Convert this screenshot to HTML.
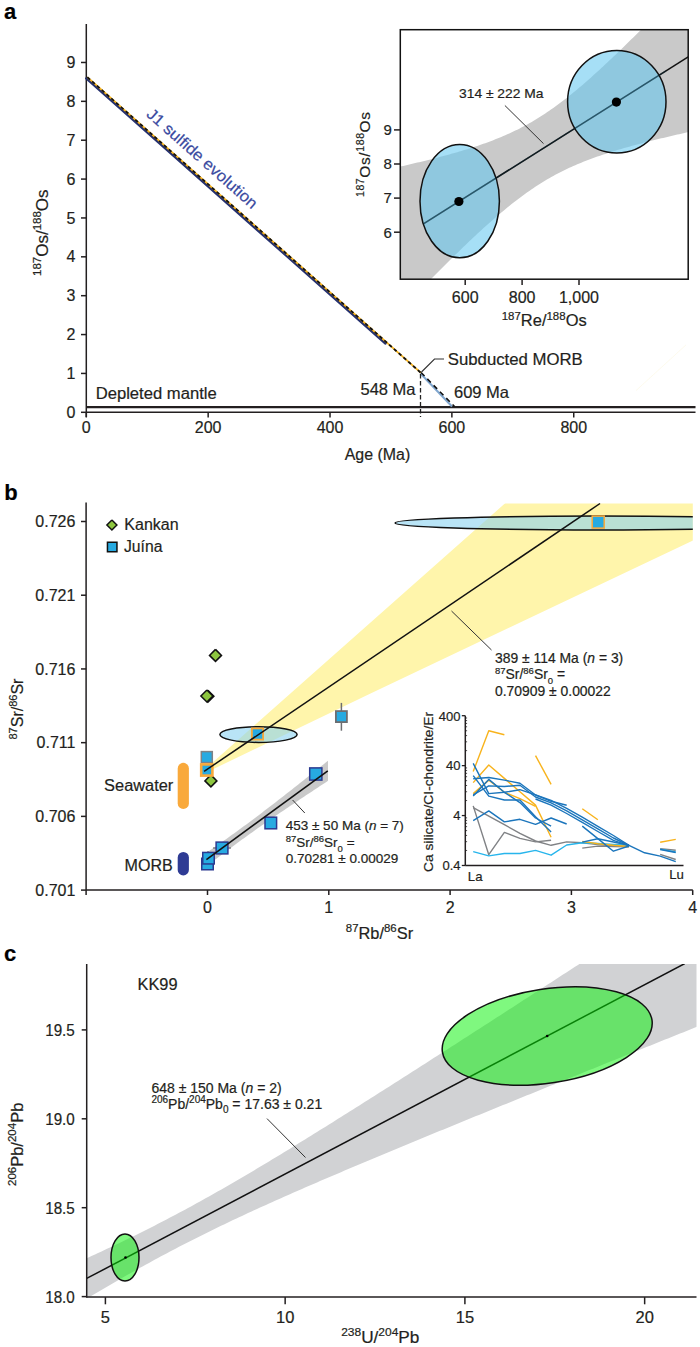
<!DOCTYPE html>
<html><head><meta charset="utf-8"><style>
html,body{margin:0;padding:0;background:#fff;}
svg{display:block;}
text{font-family:"Liberation Sans", sans-serif;stroke:#231f20;stroke-width:0.2px;}
</style></head><body>
<svg width="700" height="1347" viewBox="0 0 700 1347">
<rect width="700" height="1347" fill="#fff"/>
<text x="4" y="18.6" font-size="22" font-weight="bold" fill="#000">a</text>
<line x1="86.30" y1="24.00" x2="86.30" y2="417.00" stroke="#231f20" stroke-width="1.5" />
<line x1="86.30" y1="412.30" x2="695.50" y2="412.30" stroke="#231f20" stroke-width="1.5" />
<line x1="86.30" y1="407.20" x2="695.50" y2="407.20" stroke="#231f20" stroke-width="2.2" />
<line x1="81.00" y1="412.30" x2="86.30" y2="412.30" stroke="#231f20" stroke-width="1.5" />
<text x="75.50" y="417.90" font-size="16" text-anchor="end" fill="#231f20" >0</text>
<line x1="81.00" y1="373.43" x2="86.30" y2="373.43" stroke="#231f20" stroke-width="1.5" />
<text x="75.50" y="379.03" font-size="16" text-anchor="end" fill="#231f20" >1</text>
<line x1="81.00" y1="334.56" x2="86.30" y2="334.56" stroke="#231f20" stroke-width="1.5" />
<text x="75.50" y="340.16" font-size="16" text-anchor="end" fill="#231f20" >2</text>
<line x1="81.00" y1="295.69" x2="86.30" y2="295.69" stroke="#231f20" stroke-width="1.5" />
<text x="75.50" y="301.29" font-size="16" text-anchor="end" fill="#231f20" >3</text>
<line x1="81.00" y1="256.82" x2="86.30" y2="256.82" stroke="#231f20" stroke-width="1.5" />
<text x="75.50" y="262.42" font-size="16" text-anchor="end" fill="#231f20" >4</text>
<line x1="81.00" y1="217.95" x2="86.30" y2="217.95" stroke="#231f20" stroke-width="1.5" />
<text x="75.50" y="223.55" font-size="16" text-anchor="end" fill="#231f20" >5</text>
<line x1="81.00" y1="179.08" x2="86.30" y2="179.08" stroke="#231f20" stroke-width="1.5" />
<text x="75.50" y="184.68" font-size="16" text-anchor="end" fill="#231f20" >6</text>
<line x1="81.00" y1="140.21" x2="86.30" y2="140.21" stroke="#231f20" stroke-width="1.5" />
<text x="75.50" y="145.81" font-size="16" text-anchor="end" fill="#231f20" >7</text>
<line x1="81.00" y1="101.34" x2="86.30" y2="101.34" stroke="#231f20" stroke-width="1.5" />
<text x="75.50" y="106.94" font-size="16" text-anchor="end" fill="#231f20" >8</text>
<line x1="81.00" y1="62.47" x2="86.30" y2="62.47" stroke="#231f20" stroke-width="1.5" />
<text x="75.50" y="68.07" font-size="16" text-anchor="end" fill="#231f20" >9</text>
<line x1="86.30" y1="412.30" x2="86.30" y2="417.50" stroke="#231f20" stroke-width="1.5" />
<text x="86.30" y="432.80" font-size="16" text-anchor="middle" fill="#231f20" >0</text>
<line x1="208.16" y1="412.30" x2="208.16" y2="417.50" stroke="#231f20" stroke-width="1.5" />
<text x="208.16" y="432.80" font-size="16" text-anchor="middle" fill="#231f20" >200</text>
<line x1="330.02" y1="412.30" x2="330.02" y2="417.50" stroke="#231f20" stroke-width="1.5" />
<text x="330.02" y="432.80" font-size="16" text-anchor="middle" fill="#231f20" >400</text>
<line x1="451.88" y1="412.30" x2="451.88" y2="417.50" stroke="#231f20" stroke-width="1.5" />
<text x="451.88" y="432.80" font-size="16" text-anchor="middle" fill="#231f20" >600</text>
<line x1="573.74" y1="412.30" x2="573.74" y2="417.50" stroke="#231f20" stroke-width="1.5" />
<text x="573.74" y="432.80" font-size="16" text-anchor="middle" fill="#231f20" >800</text>
<text x="377.50" y="460.00" font-size="16" text-anchor="middle" fill="#231f20" textLength="65.5" lengthAdjust="spacingAndGlyphs" >Age (Ma)</text>
<text transform="translate(47.6,276) rotate(-90)" font-size="17" fill="#231f20"><tspan font-size="11.5" dy="-6.5">187</tspan><tspan dy="6.5">Os/</tspan><tspan font-size="11.5" dy="-6.5">188</tspan><tspan dy="6.5">Os</tspan></text>
<line x1="86.27" y1="78.40" x2="385.47" y2="343.53" stroke="#25306e" stroke-width="2.4" stroke-linecap="round"/>
<line x1="87.33" y1="77.20" x2="421.03" y2="372.90" stroke="#f6b21b" stroke-width="1.8" />
<line x1="87.33" y1="77.20" x2="421.03" y2="372.90" stroke="#111" stroke-width="1.8" stroke-dasharray="3.6 2.8"/>
<text transform="translate(145.5,115.5) rotate(41.54)" font-size="16" fill="#3a4aa0" style="stroke:#3a4aa0" textLength="142" lengthAdjust="spacingAndGlyphs">J1 sulfide evolution</text>
<line x1="420.50" y1="373.50" x2="452.00" y2="406.50" stroke="#7fa6cf" stroke-width="2.0" />
<line x1="421.00" y1="372.50" x2="454.50" y2="406.50" stroke="#111" stroke-width="1.6" stroke-dasharray="5 4"/>
<line x1="420.50" y1="374.00" x2="420.50" y2="417.00" stroke="#222" stroke-width="1.3" stroke-dasharray="4.5 2.5"/>
<path d="M421.50,372.00 L434.50,359.00 L444.00,359.00" fill="none" stroke="#333" stroke-width="1.1" />
<text x="447.80" y="364.50" font-size="16.5" text-anchor="start" fill="#231f20" textLength="135" lengthAdjust="spacingAndGlyphs" >Subducted MORB</text>
<text x="415.50" y="394.50" font-size="16.5" text-anchor="end" fill="#231f20" >548 Ma</text>
<text x="454.00" y="397.50" font-size="16.5" text-anchor="start" fill="#231f20" >609 Ma</text>
<text x="95.70" y="398.80" font-size="16" text-anchor="start" fill="#231f20" textLength="121" lengthAdjust="spacingAndGlyphs" >Depleted mantle</text>
<line x1="636.00" y1="390.60" x2="686.00" y2="344.90" stroke="#fcf9e8" stroke-width="0.8" />
<clipPath id="clipA"><rect x="400.3" y="29.7" width="287.90000000000003" height="249.5"/></clipPath>
<g clip-path="url(#clipA)">
<path d="M395.30,167.73 L397.30,167.28 L399.30,166.83 L401.30,166.37 L403.30,165.91 L405.30,165.45 L407.30,164.99 L409.30,164.52 L411.30,164.05 L413.30,163.58 L415.30,163.10 L417.30,162.62 L419.30,162.14 L421.30,161.66 L423.30,161.17 L425.30,160.67 L427.30,160.18 L429.30,159.68 L431.30,159.17 L433.30,158.66 L435.30,158.15 L437.30,157.63 L439.30,157.10 L441.30,156.58 L443.30,156.04 L445.30,155.50 L447.30,154.96 L449.30,154.41 L451.30,153.85 L453.30,153.29 L455.30,152.71 L457.30,152.14 L459.30,151.55 L461.30,150.96 L463.30,150.36 L465.30,149.75 L467.30,149.14 L469.30,148.51 L471.30,147.87 L473.30,147.23 L475.30,146.57 L477.30,145.91 L479.30,145.23 L481.30,144.55 L483.30,143.85 L485.30,143.13 L487.30,142.41 L489.30,141.67 L491.30,140.92 L493.30,140.15 L495.30,139.37 L497.30,138.58 L499.30,137.77 L501.30,136.94 L503.30,136.09 L505.30,135.23 L507.30,134.34 L509.30,133.44 L511.30,132.52 L513.30,131.58 L515.30,130.62 L517.30,129.64 L519.30,128.63 L521.30,127.61 L523.30,126.56 L525.30,125.49 L527.30,124.39 L529.30,123.27 L531.30,122.13 L533.30,120.96 L535.30,119.77 L537.30,118.56 L539.30,117.32 L541.30,116.05 L543.30,114.76 L545.30,113.44 L547.30,112.10 L549.30,110.74 L551.30,109.35 L553.30,107.94 L555.30,106.50 L557.30,105.04 L559.30,103.56 L561.30,102.06 L563.30,100.53 L565.30,98.98 L567.30,97.41 L569.30,95.82 L571.30,94.22 L573.30,92.59 L575.30,90.94 L577.30,89.27 L579.30,87.59 L581.30,85.89 L583.30,84.17 L585.30,82.44 L587.30,80.69 L589.30,78.93 L591.30,77.15 L593.30,75.36 L595.30,73.56 L597.30,71.74 L599.30,69.92 L601.30,68.08 L603.30,66.23 L605.30,64.36 L607.30,62.49 L609.30,60.61 L611.30,58.72 L613.30,56.82 L615.30,54.91 L617.30,52.99 L619.30,51.06 L621.30,49.13 L623.30,47.19 L625.30,45.24 L627.30,43.28 L629.30,41.32 L631.30,39.35 L633.30,37.38 L635.30,35.40 L637.30,33.41 L639.30,31.42 L641.30,29.42 L643.30,27.42 L645.30,25.41 L647.30,23.40 L649.30,21.39 L651.30,19.37 L653.30,17.34 L655.30,15.31 L657.30,13.28 L659.30,11.25 L661.30,9.21 L663.30,7.16 L665.30,5.12 L667.30,3.07 L669.30,1.02 L671.30,-1.04 L673.30,-3.10 L675.30,-5.16 L677.30,-7.22 L679.30,-9.29 L681.30,-11.36 L683.30,-13.43 L685.30,-15.50 L687.30,-17.58 L689.30,-19.66 L691.30,-21.74 L691.30,131.45 L689.30,131.89 L687.30,132.34 L685.30,132.79 L683.30,133.24 L681.30,133.69 L679.30,134.15 L677.30,134.60 L675.30,135.06 L673.30,135.53 L671.30,135.99 L669.30,136.46 L667.30,136.93 L665.30,137.41 L663.30,137.88 L661.30,138.37 L659.30,138.85 L657.30,139.34 L655.30,139.83 L653.30,140.33 L651.30,140.83 L649.30,141.33 L647.30,141.84 L645.30,142.35 L643.30,142.87 L641.30,143.39 L639.30,143.92 L637.30,144.45 L635.30,144.99 L633.30,145.53 L631.30,146.08 L629.30,146.64 L627.30,147.20 L625.30,147.77 L623.30,148.34 L621.30,148.92 L619.30,149.51 L617.30,150.11 L615.30,150.72 L613.30,151.33 L611.30,151.95 L609.30,152.59 L607.30,153.23 L605.30,153.88 L603.30,154.54 L601.30,155.21 L599.30,155.90 L597.30,156.59 L595.30,157.30 L593.30,158.02 L591.30,158.76 L589.30,159.50 L587.30,160.27 L585.30,161.04 L583.30,161.83 L581.30,162.64 L579.30,163.46 L577.30,164.31 L575.30,165.16 L573.30,166.04 L571.30,166.94 L569.30,167.85 L567.30,168.79 L565.30,169.74 L563.30,170.72 L561.30,171.71 L559.30,172.73 L557.30,173.77 L555.30,174.84 L553.30,175.93 L551.30,177.04 L549.30,178.17 L547.30,179.33 L545.30,180.52 L543.30,181.73 L541.30,182.96 L539.30,184.22 L537.30,185.50 L535.30,186.81 L533.30,188.14 L531.30,189.50 L529.30,190.88 L527.30,192.29 L525.30,193.71 L523.30,195.17 L521.30,196.64 L519.30,198.14 L517.30,199.66 L515.30,201.20 L513.30,202.77 L511.30,204.35 L509.30,205.95 L507.30,207.57 L505.30,209.22 L503.30,210.88 L501.30,212.55 L499.30,214.25 L497.30,215.96 L495.30,217.69 L493.30,219.43 L491.30,221.19 L489.30,222.96 L487.30,224.75 L485.30,226.55 L483.30,228.36 L481.30,230.19 L479.30,232.02 L477.30,233.87 L475.30,235.73 L473.30,237.60 L471.30,239.48 L469.30,241.37 L467.30,243.26 L465.30,245.17 L463.30,247.09 L461.30,249.01 L459.30,250.94 L457.30,252.88 L455.30,254.83 L453.30,256.78 L451.30,258.74 L449.30,260.71 L447.30,262.68 L445.30,264.66 L443.30,266.65 L441.30,268.64 L439.30,270.63 L437.30,272.63 L435.30,274.64 L433.30,276.65 L431.30,278.66 L429.30,280.68 L427.30,282.70 L425.30,284.73 L423.30,286.76 L421.30,288.80 L419.30,290.83 L417.30,292.88 L415.30,294.92 L413.30,296.97 L411.30,299.02 L409.30,301.08 L407.30,303.13 L405.30,305.19 L403.30,307.26 L401.30,309.32 L399.30,311.39 L397.30,313.46 L395.30,315.53" fill="#c9c9c9" stroke="none" stroke-width="1" />
</g>
<line x1="423.40" y1="223.90" x2="688.20" y2="56.81" stroke="#111" stroke-width="1.5" clip-path="url(#clipA)"/>
<ellipse cx="459.7" cy="201.2" rx="39.7" ry="56.6" fill="#66c8f0" fill-opacity="0.58" stroke="#111" stroke-width="1.5"/>
<ellipse cx="616.8" cy="101.7" rx="49.2" ry="51.2" fill="#66c8f0" fill-opacity="0.58" stroke="#111" stroke-width="1.5"/>
<line x1="423.40" y1="223.90" x2="666.00" y2="70.82" stroke="#0a2a38" stroke-width="1.4" stroke-opacity="0.45"/>
<circle cx="458.9" cy="201.5" r="4.6" fill="#000"/>
<circle cx="616.4" cy="102.1" r="4.6" fill="#000"/>
<rect x="400.3" y="29.7" width="287.90000000000003" height="249.5" fill="none" stroke="#111" stroke-width="1.5"/>
<line x1="394.00" y1="129.90" x2="400.30" y2="129.90" stroke="#231f20" stroke-width="1.5" />
<text x="391.80" y="135.20" font-size="15" text-anchor="end" fill="#231f20" >9</text>
<line x1="394.00" y1="164.00" x2="400.30" y2="164.00" stroke="#231f20" stroke-width="1.5" />
<text x="391.80" y="169.30" font-size="15" text-anchor="end" fill="#231f20" >8</text>
<line x1="394.00" y1="198.10" x2="400.30" y2="198.10" stroke="#231f20" stroke-width="1.5" />
<text x="391.80" y="203.40" font-size="15" text-anchor="end" fill="#231f20" >7</text>
<line x1="394.00" y1="232.20" x2="400.30" y2="232.20" stroke="#231f20" stroke-width="1.5" />
<text x="391.80" y="237.50" font-size="15" text-anchor="end" fill="#231f20" >6</text>
<line x1="465.20" y1="279.20" x2="465.20" y2="285.00" stroke="#231f20" stroke-width="1.5" />
<text x="465.20" y="303.00" font-size="16" text-anchor="middle" fill="#231f20" >600</text>
<line x1="522.10" y1="279.20" x2="522.10" y2="285.00" stroke="#231f20" stroke-width="1.5" />
<text x="522.10" y="303.00" font-size="16" text-anchor="middle" fill="#231f20" >800</text>
<line x1="579.00" y1="279.20" x2="579.00" y2="285.00" stroke="#231f20" stroke-width="1.5" />
<text x="579.00" y="303.00" font-size="16" text-anchor="middle" fill="#231f20" >1,000</text>
<text x="501.7" y="326" font-size="16.5" fill="#231f20" textLength="85" lengthAdjust="spacingAndGlyphs"><tspan font-size="11.5" dy="-6.5">187</tspan><tspan dy="6.5">Re/</tspan><tspan font-size="11.5" dy="-6.5">188</tspan><tspan dy="6.5">Os</tspan></text>
<text transform="translate(369.7,197) rotate(-90)" font-size="15.5" fill="#231f20" textLength="85" lengthAdjust="spacing"><tspan font-size="10.5" dy="-6">187</tspan><tspan dy="6">Os/</tspan><tspan font-size="10.5" dy="-6">188</tspan><tspan dy="6">Os</tspan></text>
<text x="459.00" y="98.10" font-size="13" text-anchor="start" fill="#231f20" textLength="84.5" lengthAdjust="spacingAndGlyphs" >314 ± 222 Ma</text>
<line x1="504.90" y1="105.50" x2="543.50" y2="143.60" stroke="#333" stroke-width="1.0" />
<text x="4.3" y="499.9" font-size="22" font-weight="bold" fill="#000">b</text>
<clipPath id="clipB"><rect x="86.1" y="503.5" width="606.6999999999999" height="386.6"/></clipPath>
<g clip-path="url(#clipB)">
<path d="M203.50,770.50 L576.52,440.00 L760.00,440.00 L760.00,508.69 L370.00,693.80 L330.00,712.90 L204.10,773.50" fill="#fff5ab" stroke="none" stroke-width="1" />
</g>
<path d="M204.00,854.50 L206.00,853.13 L208.00,851.75 L210.00,850.37 L212.00,848.98 L214.00,847.59 L216.00,846.19 L218.00,844.79 L220.00,843.39 L222.00,841.98 L224.00,840.56 L226.00,839.14 L228.00,837.72 L230.00,836.29 L232.00,834.85 L234.00,833.41 L236.00,831.96 L238.00,830.51 L240.00,829.05 L242.00,827.59 L244.00,826.12 L246.00,824.64 L248.00,823.16 L250.00,821.67 L252.00,820.18 L254.00,818.68 L256.00,817.18 L258.00,815.67 L260.00,814.16 L262.00,812.64 L264.00,811.12 L266.00,809.59 L268.00,808.06 L270.00,806.53 L272.00,804.99 L274.00,803.44 L276.00,801.89 L278.00,800.34 L280.00,798.79 L282.00,797.23 L284.00,795.66 L286.00,794.10 L288.00,792.53 L290.00,790.96 L292.00,789.38 L294.00,787.81 L296.00,786.23 L298.00,784.64 L300.00,783.06 L302.00,781.47 L304.00,779.88 L306.00,778.29 L308.00,776.70 L310.00,775.10 L312.00,773.51 L314.00,771.91 L316.00,770.31 L318.00,768.71 L320.00,767.10 L322.00,765.50 L324.00,763.89 L326.00,762.29 L328.00,760.68 L328.00,780.83 L326.00,782.14 L324.00,783.46 L322.00,784.78 L320.00,786.09 L318.00,787.41 L316.00,788.73 L314.00,790.06 L312.00,791.38 L310.00,792.71 L308.00,794.03 L306.00,795.36 L304.00,796.69 L302.00,798.03 L300.00,799.36 L298.00,800.70 L296.00,802.04 L294.00,803.38 L292.00,804.73 L290.00,806.08 L288.00,807.43 L286.00,808.78 L284.00,810.14 L282.00,811.50 L280.00,812.86 L278.00,814.23 L276.00,815.60 L274.00,816.97 L272.00,818.35 L270.00,819.74 L268.00,821.12 L266.00,822.51 L264.00,823.91 L262.00,825.31 L260.00,826.71 L258.00,828.12 L256.00,829.54 L254.00,830.96 L252.00,832.38 L250.00,833.81 L248.00,835.25 L246.00,836.69 L244.00,838.14 L242.00,839.59 L240.00,841.05 L238.00,842.51 L236.00,843.98 L234.00,845.46 L232.00,846.94 L230.00,848.43 L228.00,849.92 L226.00,851.42 L224.00,852.92 L222.00,854.43 L220.00,855.94 L218.00,857.46 L216.00,858.98 L214.00,860.51 L212.00,862.04 L210.00,863.57 L208.00,865.11 L206.00,866.66 L204.00,868.21" fill="#c9c9c9" stroke="none" stroke-width="1" />
<g clip-path="url(#clipB)">
<ellipse cx="597.5" cy="523" rx="202.5" ry="7" fill="#8ad2f0" fill-opacity="0.6" stroke="#111" stroke-width="1.5"/>
</g>
<ellipse cx="258.5" cy="734.6" rx="38.6" ry="7.8" fill="#8ad2f0" fill-opacity="0.6" stroke="#111" stroke-width="1.5"/>
<line x1="86.10" y1="502.50" x2="86.10" y2="895.00" stroke="#231f20" stroke-width="1.5" />
<line x1="86.10" y1="890.10" x2="692.80" y2="890.10" stroke="#231f20" stroke-width="1.5" />
<line x1="81.00" y1="521.50" x2="86.10" y2="521.50" stroke="#231f20" stroke-width="1.5" />
<text x="75.40" y="527.30" font-size="16" text-anchor="end" fill="#231f20" >0.726</text>
<line x1="81.00" y1="595.22" x2="86.10" y2="595.22" stroke="#231f20" stroke-width="1.5" />
<text x="75.40" y="601.02" font-size="16" text-anchor="end" fill="#231f20" >0.721</text>
<line x1="81.00" y1="668.94" x2="86.10" y2="668.94" stroke="#231f20" stroke-width="1.5" />
<text x="75.40" y="674.74" font-size="16" text-anchor="end" fill="#231f20" >0.716</text>
<line x1="81.00" y1="742.66" x2="86.10" y2="742.66" stroke="#231f20" stroke-width="1.5" />
<text x="75.40" y="748.46" font-size="16" text-anchor="end" fill="#231f20" >0.711</text>
<line x1="81.00" y1="816.38" x2="86.10" y2="816.38" stroke="#231f20" stroke-width="1.5" />
<text x="75.40" y="822.18" font-size="16" text-anchor="end" fill="#231f20" >0.706</text>
<line x1="81.00" y1="890.10" x2="86.10" y2="890.10" stroke="#231f20" stroke-width="1.5" />
<text x="75.40" y="895.90" font-size="16" text-anchor="end" fill="#231f20" >0.701</text>
<line x1="207.50" y1="890.10" x2="207.50" y2="895.00" stroke="#231f20" stroke-width="1.5" />
<text x="207.50" y="912.50" font-size="16" text-anchor="middle" fill="#231f20" >0</text>
<line x1="328.80" y1="890.10" x2="328.80" y2="895.00" stroke="#231f20" stroke-width="1.5" />
<text x="328.80" y="912.50" font-size="16" text-anchor="middle" fill="#231f20" >1</text>
<line x1="450.10" y1="890.10" x2="450.10" y2="895.00" stroke="#231f20" stroke-width="1.5" />
<text x="450.10" y="912.50" font-size="16" text-anchor="middle" fill="#231f20" >2</text>
<line x1="571.40" y1="890.10" x2="571.40" y2="895.00" stroke="#231f20" stroke-width="1.5" />
<text x="571.40" y="912.50" font-size="16" text-anchor="middle" fill="#231f20" >3</text>
<line x1="692.70" y1="890.10" x2="692.70" y2="895.00" stroke="#231f20" stroke-width="1.5" />
<text x="692.70" y="912.50" font-size="16" text-anchor="middle" fill="#231f20" >4</text>
<text x="345.8" y="938.9" font-size="16.5" fill="#231f20" textLength="67.3" lengthAdjust="spacingAndGlyphs"><tspan font-size="11.5" dy="-6.5">87</tspan><tspan dy="6.5">Rb/</tspan><tspan font-size="11.5" dy="-6.5">86</tspan><tspan dy="6.5">Sr</tspan></text>
<text transform="translate(23.2,739.5) rotate(-90)" font-size="16" fill="#231f20"><tspan font-size="11" dy="-6">87</tspan><tspan dy="6">Sr/</tspan><tspan font-size="11" dy="-6">86</tspan><tspan dy="6">Sr</tspan></text>
<path d="M111.90,520.00 L116.90,525.00 L111.90,530.00 L106.90,525.00 L111.90,520.00" fill="#8dc63f" stroke="#111" stroke-width="1.5" stroke-linejoin="miter"/>
<rect x="107.45" y="542.25" width="9.5" height="9.5" fill="#27aae1" stroke="#111" stroke-width="1.5"/>
<text x="124.30" y="530.40" font-size="16" text-anchor="start" fill="#231f20" textLength="54.3" lengthAdjust="spacingAndGlyphs" >Kankan</text>
<text x="124.00" y="552.10" font-size="16" text-anchor="start" fill="#231f20" textLength="38.4" lengthAdjust="spacingAndGlyphs" >Juína</text>
<rect x="177.7" y="762.8" width="11.2" height="46.2" rx="5.6" fill="#f9a93b"/>
<rect x="177.7" y="851.9" width="11.2" height="23.6" rx="5.6" fill="#2e3b94"/>
<text x="173.30" y="791.10" font-size="16" text-anchor="end" fill="#231f20" textLength="69.2" lengthAdjust="spacingAndGlyphs" >Seawater</text>
<text x="172.80" y="870.80" font-size="16" text-anchor="end" fill="#231f20" textLength="48.2" lengthAdjust="spacingAndGlyphs" >MORB</text>
<path d="M215.50,649.40 L221.50,655.40 L215.50,661.40 L209.50,655.40 L215.50,649.40" fill="#8dc63f" stroke="#111" stroke-width="1.5" stroke-linejoin="miter"/>
<path d="M207.90,690.20 L213.90,696.20 L207.90,702.20 L201.90,696.20 L207.90,690.20" fill="#8dc63f" stroke="#111" stroke-width="1.5" stroke-linejoin="miter"/>
<path d="M206.90,690.00 L212.90,696.00 L206.90,702.00 L200.90,696.00 L206.90,690.00" fill="#8dc63f" stroke="#111" stroke-width="1.5" stroke-linejoin="miter"/>
<path d="M210.90,774.90 L216.90,780.90 L210.90,786.90 L204.90,780.90 L210.90,774.90" fill="#8dc63f" stroke="#111" stroke-width="1.5" stroke-linejoin="miter"/>
<rect x="201.30" y="751.60" width="11" height="11" fill="#27aae1" stroke="#808285" stroke-width="1.5"/>
<rect x="201.20" y="764.40" width="11.2" height="11.2" fill="#27aae1" stroke="#f9a93b" stroke-width="2.6"/>
<rect x="251.90" y="728.40" width="11.2" height="11.2" fill="#27aae1" stroke="#f9a93b" stroke-width="1.8"/>
<rect x="592.20" y="516.10" width="12" height="12" fill="#27aae1" stroke="#f9a93b" stroke-width="1.5"/>
<line x1="341.40" y1="702.90" x2="341.40" y2="730.70" stroke="#6d6e71" stroke-width="1.5" />
<rect x="335.90" y="711.10" width="11.0" height="11.0" fill="#27aae1" stroke="#6d6e71" stroke-width="1.8"/>
<line x1="213.00" y1="848.00" x2="231.00" y2="848.00" stroke="#6d6e71" stroke-width="1.2" />
<line x1="208.00" y1="851.00" x2="208.00" y2="857.00" stroke="#6d6e71" stroke-width="1.2" />
<rect x="201.75" y="858.25" width="11.5" height="11.5" fill="#27aae1" stroke="#2b3990" stroke-width="1.5"/>
<rect x="202.75" y="852.45" width="11.5" height="11.5" fill="#27aae1" stroke="#2b3990" stroke-width="1.5"/>
<rect x="216.10" y="842.10" width="11.8" height="11.8" fill="#27aae1" stroke="#2b3990" stroke-width="1.5"/>
<rect x="265.00" y="817.20" width="11.6" height="11.6" fill="#27aae1" stroke="#2b3990" stroke-width="1.5"/>
<rect x="309.70" y="767.90" width="12.2" height="12.2" fill="#27aae1" stroke="#2b3990" stroke-width="1.5"/>
<line x1="204.10" y1="771.40" x2="600.00" y2="503.50" stroke="#111" stroke-width="1.5" />
<line x1="206.40" y1="859.60" x2="327.80" y2="770.90" stroke="#111" stroke-width="1.6" />
<line x1="451.50" y1="611.00" x2="491.50" y2="650.00" stroke="#333" stroke-width="1.0" />
<text font-size="13.9" fill="#231f20"><tspan x="495" y="662.5">389 ± 114 Ma (<tspan font-style="italic">n</tspan> = 3)</tspan><tspan x="495" y="679"><tspan font-size="9.5" dy="-5">87</tspan><tspan dy="5">Sr/</tspan><tspan font-size="9.5" dy="-5">86</tspan><tspan dy="5">Sr</tspan><tspan font-size="9.5" dy="4.5">0</tspan><tspan dy="-4.5"> =</tspan></tspan><tspan x="495" y="696">0.70909 ± 0.00022</tspan></text>
<line x1="292.60" y1="800.00" x2="304.80" y2="813.00" stroke="#333" stroke-width="1.0" />
<text font-size="13.5" fill="#231f20"><tspan x="285.7" y="830.1">453 ± 50 Ma (<tspan font-style="italic">n</tspan> = 7)</tspan><tspan x="285.7" y="847"><tspan font-size="9.5" dy="-5">87</tspan><tspan dy="5">Sr/</tspan><tspan font-size="9.5" dy="-5">86</tspan><tspan dy="5">Sr</tspan><tspan font-size="9.5" dy="4.5">0</tspan><tspan dy="-4.5"> =</tspan></tspan><tspan x="285.7" y="863">0.70281 ± 0.00029</tspan></text>
<line x1="465.30" y1="715.70" x2="465.30" y2="865.50" stroke="#231f20" stroke-width="1.5" />
<line x1="465.30" y1="865.50" x2="683.50" y2="865.50" stroke="#231f20" stroke-width="1.5" />
<line x1="461.80" y1="715.70" x2="465.30" y2="715.70" stroke="#231f20" stroke-width="1.3" />
<text x="460.50" y="720.50" font-size="13" text-anchor="end" fill="#231f20" >400</text>
<line x1="461.80" y1="765.63" x2="465.30" y2="765.63" stroke="#231f20" stroke-width="1.3" />
<text x="460.50" y="770.43" font-size="13" text-anchor="end" fill="#231f20" >40</text>
<line x1="461.80" y1="815.56" x2="465.30" y2="815.56" stroke="#231f20" stroke-width="1.3" />
<text x="460.50" y="820.36" font-size="13" text-anchor="end" fill="#231f20" >4</text>
<line x1="461.80" y1="865.49" x2="465.30" y2="865.49" stroke="#231f20" stroke-width="1.3" />
<text x="460.50" y="870.29" font-size="13" text-anchor="end" fill="#231f20" >0.4</text>
<line x1="465.30" y1="850.47" x2="467.10" y2="850.47" stroke="#231f20" stroke-width="0.8" />
<line x1="465.30" y1="841.68" x2="467.10" y2="841.68" stroke="#231f20" stroke-width="0.8" />
<line x1="465.30" y1="835.44" x2="467.10" y2="835.44" stroke="#231f20" stroke-width="0.8" />
<line x1="465.30" y1="830.60" x2="467.10" y2="830.60" stroke="#231f20" stroke-width="0.8" />
<line x1="465.30" y1="826.65" x2="467.10" y2="826.65" stroke="#231f20" stroke-width="0.8" />
<line x1="465.30" y1="823.30" x2="467.10" y2="823.30" stroke="#231f20" stroke-width="0.8" />
<line x1="465.30" y1="820.41" x2="467.10" y2="820.41" stroke="#231f20" stroke-width="0.8" />
<line x1="465.30" y1="817.85" x2="467.10" y2="817.85" stroke="#231f20" stroke-width="0.8" />
<line x1="465.30" y1="800.54" x2="467.10" y2="800.54" stroke="#231f20" stroke-width="0.8" />
<line x1="465.30" y1="791.75" x2="467.10" y2="791.75" stroke="#231f20" stroke-width="0.8" />
<line x1="465.30" y1="785.51" x2="467.10" y2="785.51" stroke="#231f20" stroke-width="0.8" />
<line x1="465.30" y1="780.67" x2="467.10" y2="780.67" stroke="#231f20" stroke-width="0.8" />
<line x1="465.30" y1="776.72" x2="467.10" y2="776.72" stroke="#231f20" stroke-width="0.8" />
<line x1="465.30" y1="773.37" x2="467.10" y2="773.37" stroke="#231f20" stroke-width="0.8" />
<line x1="465.30" y1="770.48" x2="467.10" y2="770.48" stroke="#231f20" stroke-width="0.8" />
<line x1="465.30" y1="767.92" x2="467.10" y2="767.92" stroke="#231f20" stroke-width="0.8" />
<line x1="465.30" y1="750.61" x2="467.10" y2="750.61" stroke="#231f20" stroke-width="0.8" />
<line x1="465.30" y1="741.82" x2="467.10" y2="741.82" stroke="#231f20" stroke-width="0.8" />
<line x1="465.30" y1="735.58" x2="467.10" y2="735.58" stroke="#231f20" stroke-width="0.8" />
<line x1="465.30" y1="730.74" x2="467.10" y2="730.74" stroke="#231f20" stroke-width="0.8" />
<line x1="465.30" y1="726.79" x2="467.10" y2="726.79" stroke="#231f20" stroke-width="0.8" />
<line x1="465.30" y1="723.44" x2="467.10" y2="723.44" stroke="#231f20" stroke-width="0.8" />
<line x1="465.30" y1="720.55" x2="467.10" y2="720.55" stroke="#231f20" stroke-width="0.8" />
<line x1="465.30" y1="717.99" x2="467.10" y2="717.99" stroke="#231f20" stroke-width="0.8" />
<text x="467.80" y="880.70" font-size="13.2" text-anchor="start" fill="#231f20" >La</text>
<text x="683.80" y="879.00" font-size="13.2" text-anchor="end" fill="#231f20" >Lu</text>
<text transform="translate(432.8,872) rotate(-90)" font-size="12.5" fill="#231f20" textLength="160" lengthAdjust="spacingAndGlyphs">Ca silicate/CI-chondrite/Er</text>
<path d="M473.20,807.60 L488.78,816.10 L504.36,824.70 L519.94,833.30 L535.52,841.00 L551.10,845.30 L566.68,841.90 L582.26,842.70 L597.84,844.50 L613.42,846.00 L629.00,846.50" fill="none" stroke="#808285" stroke-width="1.4" stroke-linejoin="round"/>
<path d="M473.20,805.90 L488.78,854.70 L504.36,832.40 L519.94,838.40 L535.52,841.90 L551.10,840.20" fill="none" stroke="#808285" stroke-width="1.4" stroke-linejoin="round"/>
<path d="M582.26,848.10 L597.84,846.10 L613.42,846.50 L629.00,846.90" fill="none" stroke="#808285" stroke-width="1.4" stroke-linejoin="round"/>
<path d="M660.16,848.70 L675.74,850.20" fill="none" stroke="#808285" stroke-width="1.4" stroke-linejoin="round"/>
<path d="M660.16,854.30 L675.74,859.50" fill="none" stroke="#808285" stroke-width="1.4" stroke-linejoin="round"/>
<path d="M473.20,851.60 L488.78,855.90 L504.36,853.50 L519.94,853.50 L535.52,850.40 L551.10,855.20 L566.68,845.00 L582.26,842.70 L597.84,843.50 L613.42,844.50 L629.00,845.30" fill="none" stroke="#27b5ec" stroke-width="1.4" stroke-linejoin="round"/>
<path d="M660.16,849.10 L675.74,852.00" fill="none" stroke="#27b5ec" stroke-width="1.4" stroke-linejoin="round"/>
<path d="M473.20,771.60 L488.78,730.80 L504.36,734.70" fill="none" stroke="#f8b31c" stroke-width="1.4" stroke-linejoin="round"/>
<path d="M535.52,755.60 L551.10,784.40" fill="none" stroke="#f8b31c" stroke-width="1.4" stroke-linejoin="round"/>
<path d="M473.20,782.60 L488.78,765.00 L504.36,778.40 L519.94,791.80 L535.52,805.10 L551.10,837.30" fill="none" stroke="#f8b31c" stroke-width="1.4" stroke-linejoin="round"/>
<path d="M473.20,793.60 L488.78,780.10 L504.36,792.30 L519.94,798.70 L535.52,806.40" fill="none" stroke="#f8b31c" stroke-width="1.4" stroke-linejoin="round"/>
<path d="M582.26,808.70 L597.84,819.80" fill="none" stroke="#f8b31c" stroke-width="1.4" stroke-linejoin="round"/>
<path d="M582.26,841.40 L597.84,843.70 L613.42,845.30 L629.00,846.50" fill="none" stroke="#f8b31c" stroke-width="1.4" stroke-linejoin="round"/>
<path d="M660.16,842.20 L675.74,839.40" fill="none" stroke="#f8b31c" stroke-width="1.4" stroke-linejoin="round"/>
<path d="M473.20,763.40 L488.78,793.60 L504.36,792.30 L519.94,789.70 L535.52,794.90 L551.10,801.30 L566.68,805.20" fill="none" stroke="#1b75bc" stroke-width="1.4" stroke-linejoin="round"/>
<path d="M473.20,775.60 L488.78,796.10 L504.36,800.00 L519.94,800.00 L535.52,816.70 L551.10,832.10" fill="none" stroke="#1b75bc" stroke-width="1.4" stroke-linejoin="round"/>
<path d="M473.20,778.80 L488.78,777.50 L504.36,780.10 L519.94,783.30 L535.52,795.00 L551.10,800.40 L566.68,808.30 L582.26,817.20 L597.84,826.30 L613.42,835.50 L629.00,845.30 L644.58,852.80 L660.16,856.10 L675.74,861.70" fill="none" stroke="#1b75bc" stroke-width="1.4" stroke-linejoin="round"/>
<path d="M473.20,794.90 L488.78,785.90 L504.36,786.50 L519.94,785.20 L535.52,797.00 L551.10,802.80 L566.68,810.90 L582.26,819.80 L597.84,828.90 L613.42,838.00 L629.00,845.50" fill="none" stroke="#1b75bc" stroke-width="1.4" stroke-linejoin="round"/>
<path d="M473.20,796.10 L488.78,779.40 L504.36,792.30 L519.94,802.60 L535.52,818.00 L551.10,826.10" fill="none" stroke="#1b75bc" stroke-width="1.4" stroke-linejoin="round"/>
<path d="M473.20,820.60 L488.78,810.90 L504.36,821.90 L519.94,819.30 L535.52,824.40 L551.10,818.00 L566.68,824.00" fill="none" stroke="#1b75bc" stroke-width="1.4" stroke-linejoin="round"/>
<path d="M535.52,799.00 L551.10,805.20 L566.68,813.50 L582.26,822.40 L597.84,831.50 L613.42,840.30 L629.00,845.70" fill="none" stroke="#1b75bc" stroke-width="1.4" stroke-linejoin="round"/>
<path d="M582.26,826.10 L597.84,838.60 L613.42,851.20 L629.00,846.00" fill="none" stroke="#1b75bc" stroke-width="1.4" stroke-linejoin="round"/>
<path d="M582.26,842.10 L597.84,838.70 L613.42,842.00 L629.00,845.30" fill="none" stroke="#1b75bc" stroke-width="1.4" stroke-linejoin="round"/>
<path d="M660.16,849.50 L675.74,852.50" fill="none" stroke="#1b75bc" stroke-width="1.4" stroke-linejoin="round"/>
<text x="4" y="960.7" font-size="22" font-weight="bold" fill="#000">c</text>
<clipPath id="clipC"><rect x="86.7" y="964" width="609.8" height="333.0999999999999"/></clipPath>
<g clip-path="url(#clipC)">
<path d="M80.00,1261.29 L83.00,1259.93 L86.00,1258.57 L89.00,1257.19 L92.00,1255.82 L95.00,1254.44 L98.00,1253.05 L101.00,1251.65 L104.00,1250.25 L107.00,1248.85 L110.00,1247.44 L113.00,1246.02 L116.00,1244.59 L119.00,1243.16 L122.00,1241.72 L125.00,1240.27 L128.00,1238.82 L131.00,1237.36 L134.00,1235.89 L137.00,1234.41 L140.00,1232.93 L143.00,1231.44 L146.00,1229.94 L149.00,1228.43 L152.00,1226.91 L155.00,1225.38 L158.00,1223.85 L161.00,1222.31 L164.00,1220.75 L167.00,1219.19 L170.00,1217.62 L173.00,1216.05 L176.00,1214.46 L179.00,1212.86 L182.00,1211.26 L185.00,1209.65 L188.00,1208.02 L191.00,1206.39 L194.00,1204.76 L197.00,1203.11 L200.00,1201.45 L203.00,1199.79 L206.00,1198.12 L209.00,1196.44 L212.00,1194.75 L215.00,1193.05 L218.00,1191.35 L221.00,1189.64 L224.00,1187.92 L227.00,1186.20 L230.00,1184.47 L233.00,1182.73 L236.00,1180.99 L239.00,1179.23 L242.00,1177.48 L245.00,1175.71 L248.00,1173.95 L251.00,1172.17 L254.00,1170.39 L257.00,1168.60 L260.00,1166.81 L263.00,1165.02 L266.00,1163.22 L269.00,1161.41 L272.00,1159.60 L275.00,1157.79 L278.00,1155.97 L281.00,1154.14 L284.00,1152.32 L287.00,1150.48 L290.00,1148.65 L293.00,1146.81 L296.00,1144.97 L299.00,1143.12 L302.00,1141.28 L305.00,1139.42 L308.00,1137.57 L311.00,1135.71 L314.00,1133.85 L317.00,1131.99 L320.00,1130.12 L323.00,1128.25 L326.00,1126.38 L329.00,1124.51 L332.00,1122.63 L335.00,1120.75 L338.00,1118.87 L341.00,1116.99 L344.00,1115.10 L347.00,1113.22 L350.00,1111.33 L353.00,1109.44 L356.00,1107.55 L359.00,1105.65 L362.00,1103.76 L365.00,1101.86 L368.00,1099.96 L371.00,1098.06 L374.00,1096.16 L377.00,1094.26 L380.00,1092.35 L383.00,1090.45 L386.00,1088.54 L389.00,1086.63 L392.00,1084.72 L395.00,1082.81 L398.00,1080.90 L401.00,1078.98 L404.00,1077.07 L407.00,1075.15 L410.00,1073.24 L413.00,1071.32 L416.00,1069.40 L419.00,1067.48 L422.00,1065.56 L425.00,1063.64 L428.00,1061.72 L431.00,1059.80 L434.00,1057.87 L437.00,1055.95 L440.00,1054.02 L443.00,1052.10 L446.00,1050.17 L449.00,1048.24 L452.00,1046.31 L455.00,1044.39 L458.00,1042.46 L461.00,1040.53 L464.00,1038.60 L467.00,1036.66 L470.00,1034.73 L473.00,1032.80 L476.00,1030.87 L479.00,1028.93 L482.00,1027.00 L485.00,1025.06 L488.00,1023.13 L491.00,1021.19 L494.00,1019.26 L497.00,1017.32 L500.00,1015.38 L503.00,1013.44 L506.00,1011.51 L509.00,1009.57 L512.00,1007.63 L515.00,1005.69 L518.00,1003.75 L521.00,1001.81 L524.00,999.87 L527.00,997.93 L530.00,995.99 L533.00,994.04 L536.00,992.10 L539.00,990.16 L542.00,988.22 L545.00,986.27 L548.00,984.33 L551.00,982.39 L554.00,980.44 L557.00,978.50 L560.00,976.55 L563.00,974.61 L566.00,972.66 L569.00,970.72 L572.00,968.77 L575.00,966.83 L578.00,964.88 L581.00,962.93 L584.00,960.99 L587.00,959.04 L590.00,957.09 L593.00,955.15 L596.00,953.20 L599.00,951.25 L602.00,949.30 L605.00,947.35 L608.00,945.40 L611.00,943.46 L614.00,941.51 L617.00,939.56 L620.00,937.61 L623.00,935.66 L626.00,933.71 L629.00,931.76 L632.00,929.81 L635.00,927.86 L638.00,925.91 L641.00,923.96 L644.00,922.00 L647.00,920.05 L650.00,918.10 L653.00,916.15 L656.00,914.20 L659.00,912.25 L662.00,910.29 L665.00,908.34 L668.00,906.39 L671.00,904.44 L674.00,902.49 L677.00,900.53 L680.00,898.58 L683.00,896.63 L686.00,894.67 L689.00,892.72 L692.00,890.77 L695.00,888.81 L698.00,886.86 L701.00,884.91 L704.00,882.95 L707.00,881.00 L710.00,879.04 L713.00,877.09 L713.00,1020.32 L710.00,1021.53 L707.00,1022.73 L704.00,1023.94 L701.00,1025.14 L698.00,1026.35 L695.00,1027.55 L692.00,1028.76 L689.00,1029.96 L686.00,1031.17 L683.00,1032.38 L680.00,1033.58 L677.00,1034.79 L674.00,1035.99 L671.00,1037.20 L668.00,1038.41 L665.00,1039.61 L662.00,1040.82 L659.00,1042.03 L656.00,1043.23 L653.00,1044.44 L650.00,1045.65 L647.00,1046.86 L644.00,1048.07 L641.00,1049.27 L638.00,1050.48 L635.00,1051.69 L632.00,1052.90 L629.00,1054.11 L626.00,1055.32 L623.00,1056.53 L620.00,1057.73 L617.00,1058.94 L614.00,1060.15 L611.00,1061.36 L608.00,1062.57 L605.00,1063.78 L602.00,1064.99 L599.00,1066.21 L596.00,1067.42 L593.00,1068.63 L590.00,1069.84 L587.00,1071.05 L584.00,1072.26 L581.00,1073.47 L578.00,1074.69 L575.00,1075.90 L572.00,1077.11 L569.00,1078.33 L566.00,1079.54 L563.00,1080.75 L560.00,1081.97 L557.00,1083.18 L554.00,1084.40 L551.00,1085.61 L548.00,1086.83 L545.00,1088.04 L542.00,1089.26 L539.00,1090.47 L536.00,1091.69 L533.00,1092.91 L530.00,1094.13 L527.00,1095.34 L524.00,1096.56 L521.00,1097.78 L518.00,1099.00 L515.00,1100.22 L512.00,1101.44 L509.00,1102.66 L506.00,1103.88 L503.00,1105.10 L500.00,1106.32 L497.00,1107.54 L494.00,1108.76 L491.00,1109.99 L488.00,1111.21 L485.00,1112.43 L482.00,1113.66 L479.00,1114.88 L476.00,1116.11 L473.00,1117.33 L470.00,1118.56 L467.00,1119.79 L464.00,1121.01 L461.00,1122.24 L458.00,1123.47 L455.00,1124.70 L452.00,1125.93 L449.00,1127.16 L446.00,1128.39 L443.00,1129.63 L440.00,1130.86 L437.00,1132.09 L434.00,1133.33 L431.00,1134.56 L428.00,1135.80 L425.00,1137.04 L422.00,1138.27 L419.00,1139.51 L416.00,1140.75 L413.00,1141.99 L410.00,1143.23 L407.00,1144.48 L404.00,1145.72 L401.00,1146.96 L398.00,1148.21 L395.00,1149.46 L392.00,1150.71 L389.00,1151.95 L386.00,1153.21 L383.00,1154.46 L380.00,1155.71 L377.00,1156.96 L374.00,1158.22 L371.00,1159.48 L368.00,1160.74 L365.00,1162.00 L362.00,1163.26 L359.00,1164.52 L356.00,1165.79 L353.00,1167.05 L350.00,1168.32 L347.00,1169.59 L344.00,1170.86 L341.00,1172.14 L338.00,1173.42 L335.00,1174.69 L332.00,1175.97 L329.00,1177.26 L326.00,1178.54 L323.00,1179.83 L320.00,1181.12 L317.00,1182.41 L314.00,1183.71 L311.00,1185.01 L308.00,1186.31 L305.00,1187.61 L302.00,1188.92 L299.00,1190.23 L296.00,1191.54 L293.00,1192.86 L290.00,1194.18 L287.00,1195.51 L284.00,1196.83 L281.00,1198.17 L278.00,1199.50 L275.00,1200.84 L272.00,1202.19 L269.00,1203.53 L266.00,1204.89 L263.00,1206.25 L260.00,1207.61 L257.00,1208.98 L254.00,1210.35 L251.00,1211.73 L248.00,1213.11 L245.00,1214.50 L242.00,1215.90 L239.00,1217.30 L236.00,1218.71 L233.00,1220.12 L230.00,1221.54 L227.00,1222.97 L224.00,1224.41 L221.00,1225.85 L218.00,1227.30 L215.00,1228.75 L212.00,1230.22 L209.00,1231.69 L206.00,1233.17 L203.00,1234.65 L200.00,1236.15 L197.00,1237.65 L194.00,1239.16 L191.00,1240.68 L188.00,1242.21 L185.00,1243.75 L182.00,1245.30 L179.00,1246.85 L176.00,1248.41 L173.00,1249.99 L170.00,1251.57 L167.00,1253.16 L164.00,1254.76 L161.00,1256.36 L158.00,1257.98 L155.00,1259.60 L152.00,1261.24 L149.00,1262.88 L146.00,1264.53 L143.00,1266.19 L140.00,1267.85 L137.00,1269.53 L134.00,1271.21 L131.00,1272.90 L128.00,1274.60 L125.00,1276.30 L122.00,1278.02 L119.00,1279.74 L116.00,1281.46 L113.00,1283.20 L110.00,1284.94 L107.00,1286.68 L104.00,1288.44 L101.00,1290.19 L98.00,1291.96 L95.00,1293.73 L92.00,1295.51 L89.00,1297.29 L86.00,1299.08 L83.00,1300.87 L80.00,1302.67" fill="#d1d2d4" stroke="none" stroke-width="1" />
</g>
<line x1="86.70" y1="1278.45" x2="684.80" y2="963.55" stroke="#111" stroke-width="1.5" clip-path="url(#clipC)"/>
<ellipse cx="547.2" cy="1036" rx="106" ry="47" transform="rotate(-8.7 547.2 1036)" fill="#00f200" fill-opacity="0.5" stroke="#111" stroke-width="1.5"/>
<ellipse cx="125" cy="1257.5" rx="14" ry="23.5" fill="#00f200" fill-opacity="0.5" stroke="#111" stroke-width="1.5"/>
<circle cx="547.2" cy="1036" r="1.3" fill="#000"/>
<circle cx="125.5" cy="1257.5" r="1.3" fill="#000"/>
<line x1="86.70" y1="964.00" x2="86.70" y2="1297.80" stroke="#231f20" stroke-width="1.5" />
<line x1="86.70" y1="1297.10" x2="696.50" y2="1297.10" stroke="#231f20" stroke-width="1.5" />
<line x1="81.70" y1="1296.60" x2="86.70" y2="1296.60" stroke="#231f20" stroke-width="1.5" />
<text x="74.80" y="1302.50" font-size="16.5" text-anchor="end" fill="#231f20" textLength="29.6" lengthAdjust="spacingAndGlyphs" >18.0</text>
<line x1="81.70" y1="1207.70" x2="86.70" y2="1207.70" stroke="#231f20" stroke-width="1.5" />
<text x="74.80" y="1213.60" font-size="16.5" text-anchor="end" fill="#231f20" textLength="29.6" lengthAdjust="spacingAndGlyphs" >18.5</text>
<line x1="81.70" y1="1118.80" x2="86.70" y2="1118.80" stroke="#231f20" stroke-width="1.5" />
<text x="74.80" y="1124.70" font-size="16.5" text-anchor="end" fill="#231f20" textLength="29.6" lengthAdjust="spacingAndGlyphs" >19.0</text>
<line x1="81.70" y1="1029.90" x2="86.70" y2="1029.90" stroke="#231f20" stroke-width="1.5" />
<text x="74.80" y="1035.80" font-size="16.5" text-anchor="end" fill="#231f20" textLength="29.6" lengthAdjust="spacingAndGlyphs" >19.5</text>
<line x1="105.40" y1="1297.10" x2="105.40" y2="1304.30" stroke="#231f20" stroke-width="1.5" />
<text x="105.40" y="1323.00" font-size="16.5" text-anchor="middle" fill="#231f20" >5</text>
<line x1="285.15" y1="1297.10" x2="285.15" y2="1304.30" stroke="#231f20" stroke-width="1.5" />
<text x="285.15" y="1323.00" font-size="16.5" text-anchor="middle" fill="#231f20" >10</text>
<line x1="464.90" y1="1297.10" x2="464.90" y2="1304.30" stroke="#231f20" stroke-width="1.5" />
<text x="464.90" y="1323.00" font-size="16.5" text-anchor="middle" fill="#231f20" >15</text>
<line x1="644.65" y1="1297.10" x2="644.65" y2="1304.30" stroke="#231f20" stroke-width="1.5" />
<text x="644.65" y="1323.00" font-size="16.5" text-anchor="middle" fill="#231f20" >20</text>
<text x="137.50" y="990.00" font-size="16" text-anchor="start" fill="#231f20" textLength="40" lengthAdjust="spacingAndGlyphs" >KK99</text>
<text x="341.2" y="1342.9" font-size="16.5" fill="#231f20" textLength="78.2" lengthAdjust="spacingAndGlyphs"><tspan font-size="11.5" dy="-6.5">238</tspan><tspan dy="6.5">U/</tspan><tspan font-size="11.5" dy="-6.5">204</tspan><tspan dy="6.5">Pb</tspan></text>
<text transform="translate(22.7,1186) rotate(-90)" font-size="16.5" fill="#231f20"><tspan font-size="11.5" dy="-6.5">206</tspan><tspan dy="6.5">Pb/</tspan><tspan font-size="11.5" dy="-6.5">204</tspan><tspan dy="6.5">Pb</tspan></text>
<text font-size="14" fill="#231f20"><tspan x="151.4" y="1092.9">648 ± 150 Ma (<tspan font-style="italic">n</tspan> = 2)</tspan><tspan x="151.4" y="1108.6"><tspan font-size="10" dy="-5.5">206</tspan><tspan dy="5.5">Pb/</tspan><tspan font-size="10" dy="-5.5">204</tspan><tspan dy="5.5">Pb</tspan><tspan font-size="10" dy="4.5">0</tspan><tspan dy="-4.5"> = 17.63 ± 0.21</tspan></tspan></text>
<line x1="267.00" y1="1118.60" x2="305.50" y2="1157.50" stroke="#333" stroke-width="1.0" />
</svg></body></html>
